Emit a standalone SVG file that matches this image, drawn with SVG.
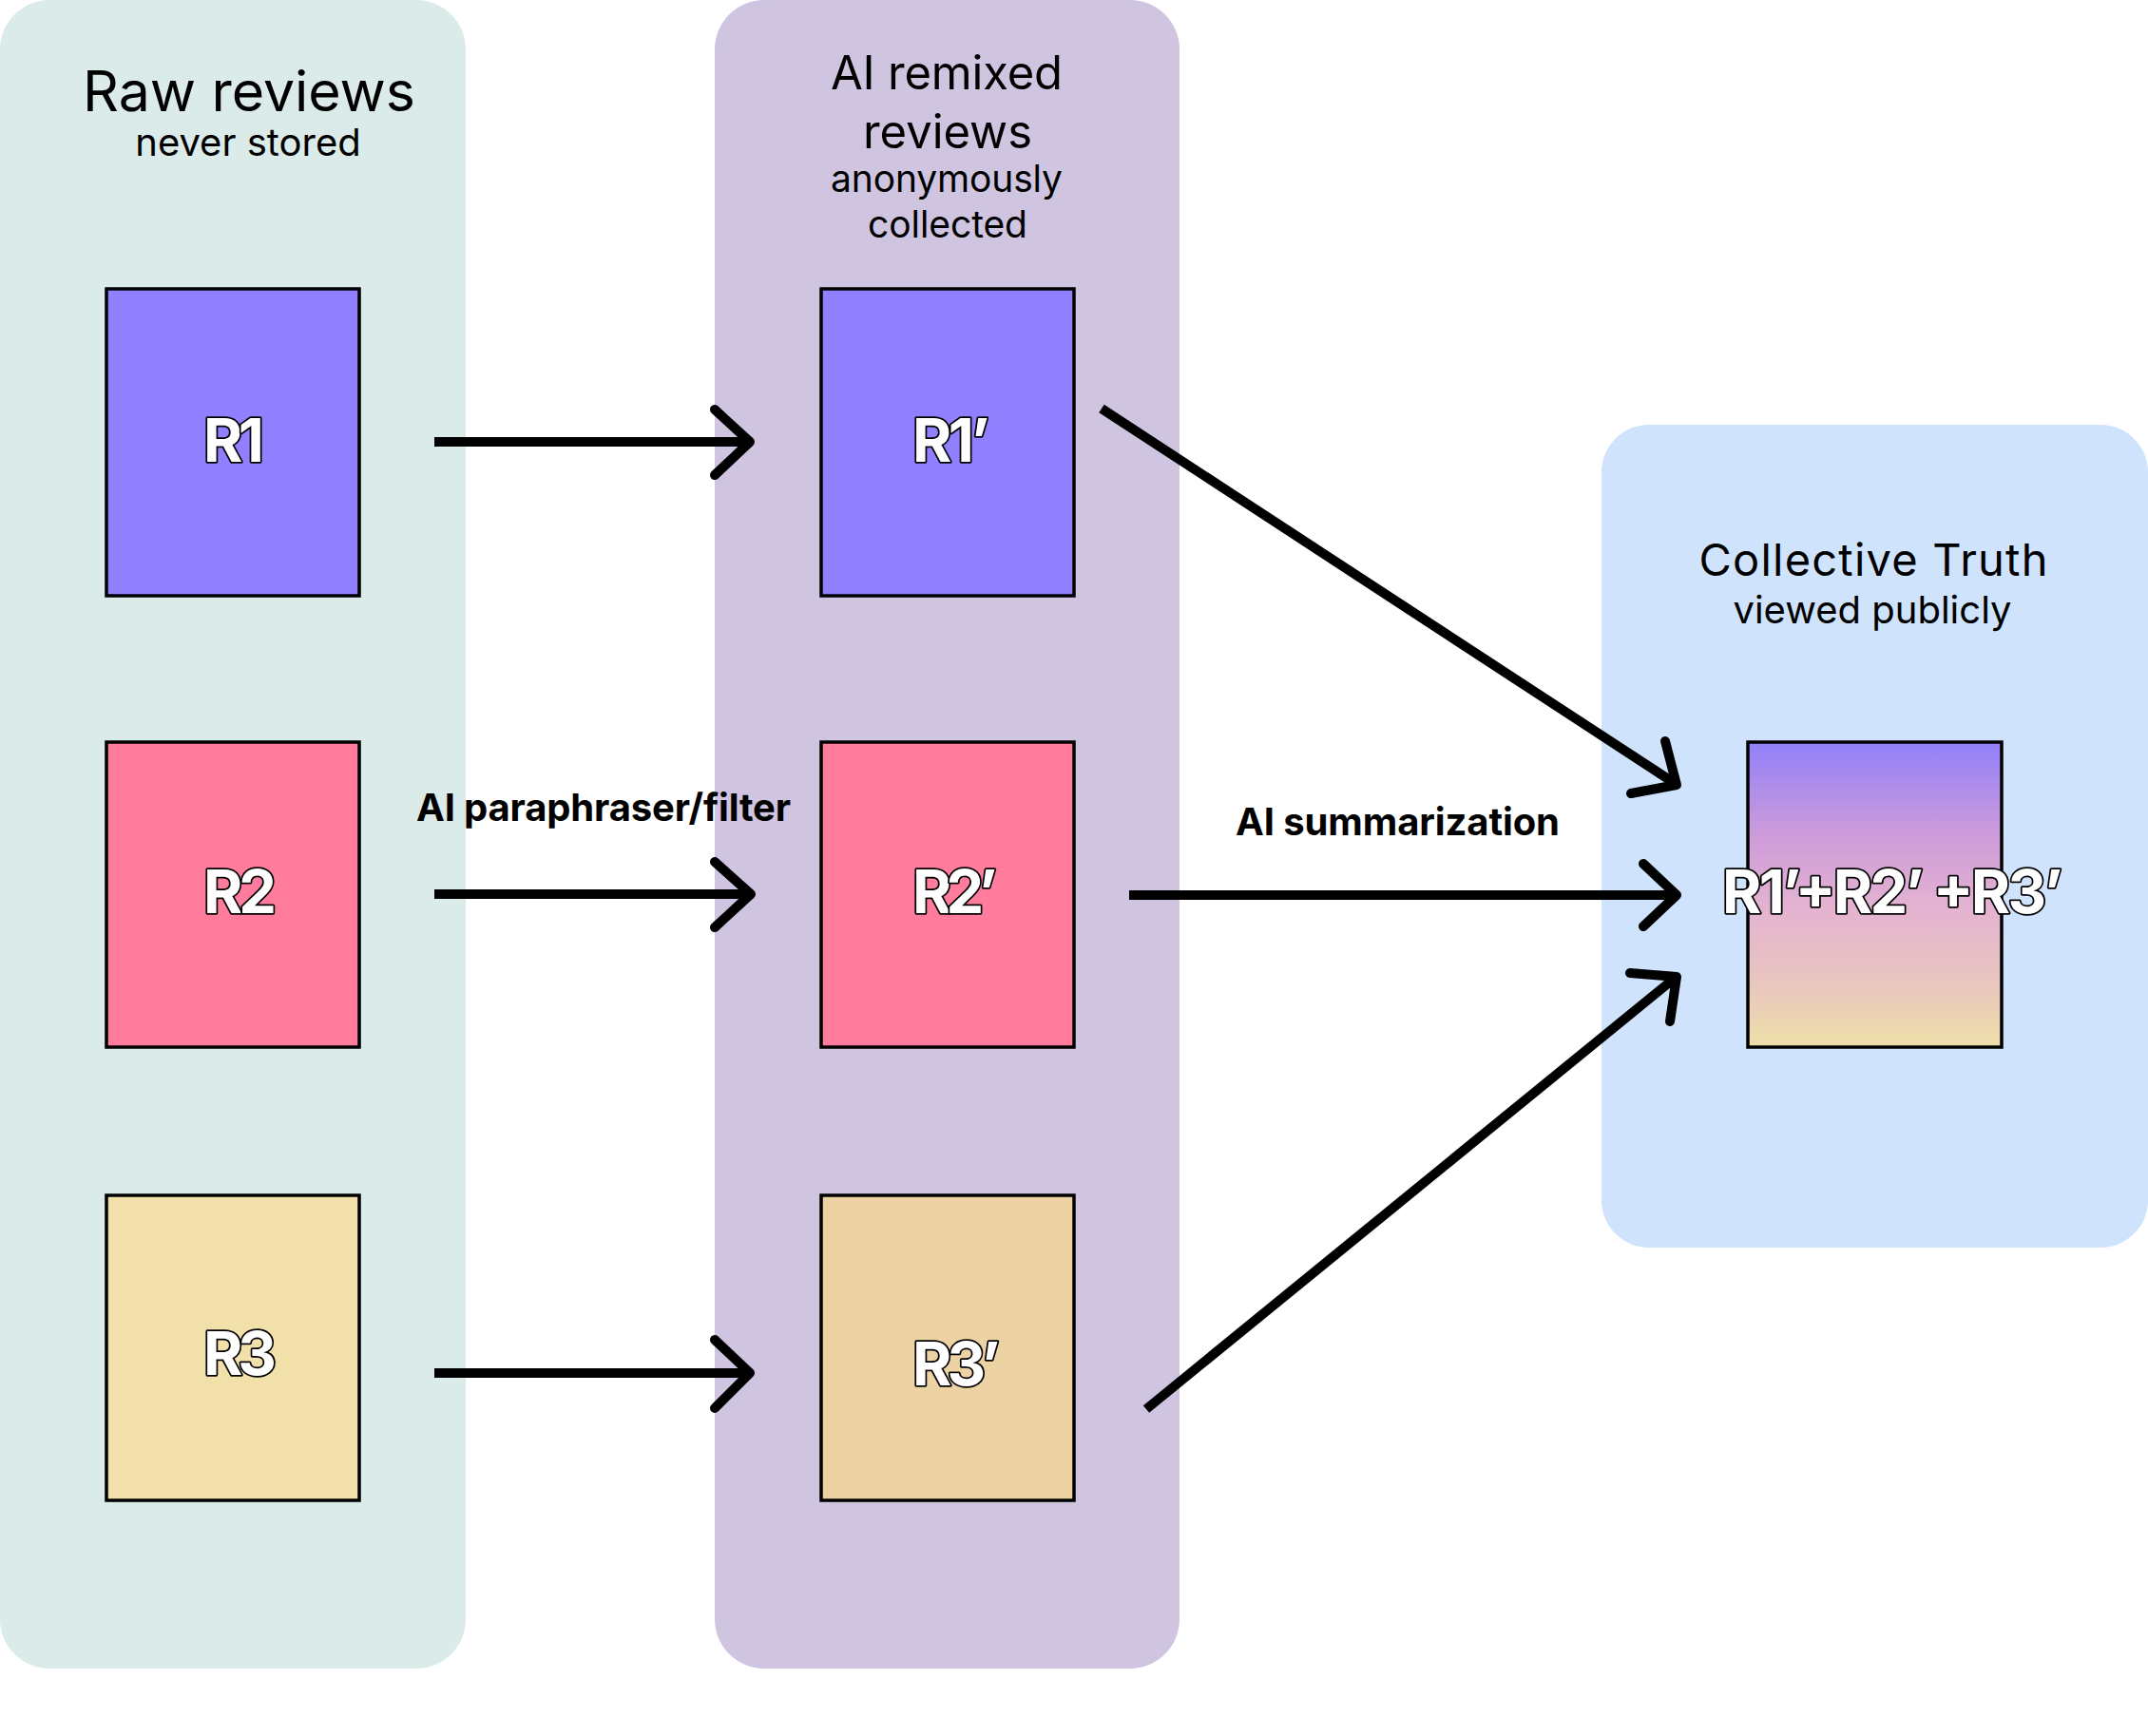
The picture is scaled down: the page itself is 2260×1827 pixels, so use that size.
<svg xmlns="http://www.w3.org/2000/svg" width="2260" height="1827" viewBox="0 0 2260 1827">
  <defs>
    <linearGradient id="mix" x1="0" y1="0" x2="0" y2="1">
      <stop offset="0" stop-color="#9280FA"/>
      <stop offset="0.3" stop-color="#CD9BDA"/>
      <stop offset="0.55" stop-color="#E4B3D1"/>
      <stop offset="0.8" stop-color="#E9C7BE"/>
      <stop offset="1" stop-color="#EEDFA8"/>
    </linearGradient>
    <style>
      .head { font-family: Inter, "Liberation Sans", sans-serif; fill: #000; text-anchor: middle; }
      .edge { font-family: Inter, "Liberation Sans", sans-serif; font-weight: 700; fill: #000; }
      .lbl { font-family: Inter, "Liberation Sans", sans-serif; font-weight: 700; font-size: 63px; fill: #fff; stroke: #000; stroke-width: 3.5; paint-order: stroke; stroke-linejoin: round; }
      .box { stroke: #000; stroke-width: 3.5; }
      .ln { fill: none; stroke: #000; stroke-width: 10; }
      .hd { fill: none; stroke: #000; stroke-width: 10; stroke-linecap: round; stroke-linejoin: round; }
    </style>
  </defs>

  <g id="panel-raw">
    <rect x="0" y="0" width="490" height="1756" rx="52" fill="#DBEBEA"/>
    <text class="head" x="262" y="117" font-size="59" textLength="350">Raw reviews</text>
    <text class="head" x="261" y="164" font-size="40">never stored</text>
  </g>
  <g id="panel-remixed">
    <rect x="752" y="0" width="489" height="1756" rx="52" fill="#CFC5E1"/>
    <text class="head" x="996" y="94" font-size="49" textLength="244">AI remixed</text>
    <text class="head" x="997" y="156" font-size="49" textLength="178">reviews</text>
    <text class="head" x="996" y="202" font-size="39" textLength="244">anonymously</text>
    <text class="head" x="997" y="250" font-size="39" textLength="168">collected</text>
  </g>
  <g id="panel-truth">
    <rect x="1685" y="447" width="575" height="866" rx="50" fill="#CFE3FD"/>
    <text class="head" x="1971" y="606" font-size="47" textLength="367">Collective Truth</text>
    <text class="head" x="1970" y="656" font-size="40">viewed publicly</text>
  </g>

  <g id="R1">
    <rect class="box" x="112" y="304" width="266" height="323" fill="#907FFF"/>
    <text class="lbl" x="214" y="486" textLength="64">R1</text>
  </g>
  <g id="R2">
    <rect class="box" x="112" y="781" width="266" height="321" fill="#FF7C9C"/>
    <text class="lbl" x="214" y="961" textLength="77">R2</text>
  </g>
  <g id="R3">
    <rect class="box" x="112" y="1258" width="266" height="321" fill="#F2E0AA"/>
    <text class="lbl" x="214" y="1447" textLength="77">R3</text>
  </g>
  <g id="R1p">
    <rect class="box" x="864" y="304" width="266" height="323" fill="#907FFF"/>
    <text class="lbl" x="960" y="486" textLength="81">R1’</text>
  </g>
  <g id="R2p">
    <rect class="box" x="864" y="781" width="266" height="321" fill="#FF7C9C"/>
    <text class="lbl" x="960" y="961" textLength="89">R2’</text>
  </g>
  <g id="R3p">
    <rect class="box" x="864" y="1258" width="266" height="321" fill="#EDD3A3"/>
    <text class="lbl" x="960" y="1458" textLength="92">R3’</text>
  </g>
  <g id="summary">
    <rect class="box" x="1839" y="781" width="267" height="321" fill="url(#mix)"/>
    <text class="lbl" x="1812" y="961" textLength="358">R1’+R2’ +R3’</text>
  </g>

  <g id="connectors">
    <line class="ln" x1="457" y1="465" x2="787" y2="465"/>
    <polyline class="hd" points="752,431 789,465 752,500"/>
    <line class="ln" x1="457" y1="941" x2="787" y2="941"/>
    <polyline class="hd" points="752,907 790,941 752,976"/>
    <line class="ln" x1="457" y1="1445" x2="787" y2="1445"/>
    <polyline class="hd" points="752,1410 789,1445 752,1482"/>

    <line class="ln" x1="1159" y1="430" x2="1760" y2="823"/>
    <polyline class="hd" points="1752,780 1764,826 1716,835"/>
    <line class="ln" x1="1188" y1="942" x2="1761" y2="942"/>
    <polyline class="hd" points="1729,909 1764,942 1729,975"/>
    <line class="ln" x1="1206" y1="1483" x2="1760" y2="1031"/>
    <polyline class="hd" points="1715,1024 1764,1028 1757,1075"/>

    <text class="edge" x="438" y="864" font-size="40" textLength="394">AI paraphraser/filter</text>
    <text class="edge" x="1300" y="879" font-size="40" textLength="341">AI summarization</text>
  </g>
</svg>
